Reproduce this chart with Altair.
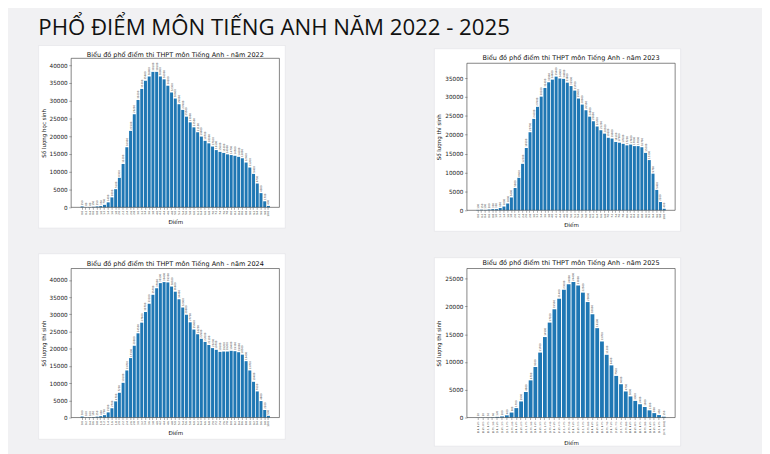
import altair as alt
import pandas as pd

# ---------------- data ----------------
labels_02 = ["0.0", "0.2", "0.4", "0.6", "0.8", "1.0", "1.2", "1.4", "1.6", "1.8",
             "2.0", "2.2", "2.4", "2.6", "2.8", "3.0", "3.2", "3.4", "3.6", "3.8",
             "4.0", "4.2", "4.4", "4.6", "4.8", "5.0", "5.2", "5.4", "5.6", "5.8",
             "6.0", "6.2", "6.4", "6.6", "6.8", "7.0", "7.2", "7.4", "7.6", "7.8",
             "8.0", "8.2", "8.4", "8.6", "8.8", "9.0", "9.2", "9.4", "9.6", "9.8", "10.0"]

labels_25 = ["[0.0, 0.25)", "[0.25, 0.5)", "[0.5, 0.75)", "[0.75, 1.0)", "[1.0, 1.25)",
             "[1.25, 1.5)", "[1.5, 1.75)", "[1.75, 2.0)", "[2.0, 2.25)", "[2.25, 2.5)",
             "[2.5, 2.75)", "[2.75, 3.0)", "[3.0, 3.25)", "[3.25, 3.5)", "[3.5, 3.75)",
             "[3.75, 4.0)", "[4.0, 4.25)", "[4.25, 4.5)", "[4.5, 4.75)", "[4.75, 5.0)",
             "[5.0, 5.25)", "[5.25, 5.5)", "[5.5, 5.75)", "[5.75, 6.0)", "[6.0, 6.25)",
             "[6.25, 6.5)", "[6.5, 6.75)", "[6.75, 7.0)", "[7.0, 7.25)", "[7.25, 7.5)",
             "[7.5, 7.75)", "[7.75, 8.0)", "[8.0, 8.25)", "[8.25, 8.5)", "[8.5, 8.75)",
             "[8.75, 9.0)", "[9.0, 9.25)", "[9.25, 9.5)", "[9.5, 9.75)", "[9.75, 10.0]"]

counts_2022 = [250, 80, 80, 150, 250, 350, 700, 1400, 2800, 5100,
               8300, 12200, 16900, 21500, 26200, 30200, 33300, 35600, 36800, 38100,
               38100, 36800, 36000, 34200, 32300, 30600, 29000, 27400, 25500, 23900,
               22500, 21100, 19900, 18700, 18000, 17100, 16100, 15600, 15300, 14900,
               14700, 14500, 14200, 13800, 12600, 11200, 9400, 6700, 4000, 1700, 400]

counts_2023 = [100, 150, 100, 200, 300, 300, 600, 1000, 1800, 3400,
               5900, 8600, 12300, 16500, 20700, 24200, 27400, 30100, 32400, 33900,
               34600, 35400, 34900, 34800, 33800, 32900, 31700, 29600, 28000, 26500,
               24800, 23600, 22200, 21200, 20300, 19200, 19000, 18100, 17900, 17600,
               17200, 17400, 17000, 17000, 16700, 15200, 13300, 9700, 5400, 2200, 400]

counts_2024 = [300, 100, 100, 150, 250, 400, 700, 1500, 2700, 4700,
               7200, 10100, 13700, 17300, 20900, 24500, 27600, 30700, 33100, 35700,
               37600, 39100, 39400, 39300, 38100, 36600, 34400, 32000, 29900, 27700,
               25600, 24200, 22900, 22000, 21100, 20200, 19700, 19100, 19200, 19200,
               19400, 19300, 19000, 18300, 16400, 13700, 10400, 7600, 4800, 2200, 500]

counts_2025 = [20, 20, 30, 60, 120, 200, 400, 900, 1700, 2900,
               4600, 6700, 9100, 11700, 14500, 17100, 19500, 21400, 23000, 24000,
               24400, 23800, 22500, 20800, 18600, 16100, 13700, 11300, 9400, 7500,
               6000, 4700, 3800, 3000, 2400, 1900, 1300, 800, 450, 150]

BAR = "#1f77b4"
BG = "#f1f1f3"
MPL_FONT = "DejaVu Sans"


def panel(labels, counts, year, ytitle, w, h, card, xlab_font=2.6,
          title_y=-3.5, xtitle_pad=4):
    df = pd.DataFrame({"Điểm": labels, "count": counts})
    ymax = max(counts) * 1.1
    ticks = list(range(0, int(ymax) + 1, 5000))

    x = alt.X("Điểm:N", sort=None, title="Điểm",
              scale=alt.Scale(paddingInner=0.2, paddingOuter=0, range=[w / 22, w * 21 / 22]),
              axis=alt.Axis(labelAngle=270, labelFontSize=xlab_font, labelFont=MPL_FONT,
                            labelColor="#222", tickSize=2, tickColor="#333", tickWidth=0.4,
                            labelPadding=1, domain=False, titleFont=MPL_FONT,
                            titleFontSize=5.6, titleFontWeight="normal", titleColor="#111",
                            titlePadding=xtitle_pad, labelOverlap=False, labelLimit=100,
                            zindex=1))
    y = alt.Y("count:Q", title=ytitle,
              scale=alt.Scale(domain=[0, ymax], nice=False, zero=True),
              axis=alt.Axis(values=ticks, format="d", labelFontSize=5.8, labelFont=MPL_FONT,
                            labelColor="#222", tickSize=2.5, tickColor="#333", tickWidth=0.4,
                            labelPadding=1.5, domain=False, grid=False, titleFont=MPL_FONT,
                            titleFontSize=5.6, titleFontWeight="normal", titleColor="#111",
                            titlePadding=3, labelOverlap=False, labelFlush=False, zindex=1))

    cx0, cx1, cy0, cy1 = card
    one = pd.DataFrame({"k": [0]})
    card_layer = alt.Chart(one).mark_rect(
        fill="white", stroke="#e2e2e6", strokeWidth=0.6).encode(
        x=alt.value(cx0), x2=alt.value(cx1), y=alt.value(cy0), y2=alt.value(cy1))

    base = alt.Chart(df)
    bars = base.mark_bar(color=BAR).encode(x=x, y=y)
    text = base.mark_text(angle=270, align="left", baseline="middle", dx=1.2,
                          fontSize=2.6, font=MPL_FONT, color="#444").encode(
        x=x, y=y, text=alt.Text("count:Q", format="d"))
    frame = alt.Chart(one).mark_rect(
        fill="transparent", stroke="#333", strokeWidth=0.6).encode(
        x=alt.value(0), x2=alt.value(w), y=alt.value(0), y2=alt.value(h))
    title = alt.Chart(one).mark_text(
        font=MPL_FONT, fontSize=6.6, color="#111", align="center", baseline="middle").encode(
        x=alt.value(w / 2), y=alt.value(title_y),
        text=alt.value(f"Biểu đồ phổ điểm thi THPT môn Tiếng Anh - năm {year}"))

    return alt.layer(card_layer, bars, text, frame, title).properties(width=w, height=h)


def spacer(hgt):
    # thin background-coloured strip used only to offset a column vertically
    return alt.Chart(pd.DataFrame({"k": [0]})).mark_rect(fill=BG).encode(
        x=alt.value(0), x2=alt.value(1), y=alt.value(0), y2=alt.value(hgt)
    ).properties(width=1, height=hgt)


p22 = panel(labels_02, counts_2022, 2022, "Số lượng học sinh", 211, 151, (-33, 217, -13, 172),
            title_y=-3.5)
p24 = panel(labels_02, counts_2024, 2024, "Số lượng thí sinh", 211, 151, (-33, 217, -15, 173),
            title_y=-4.5)
p23 = panel(labels_02, counts_2023, 2023, "Số lượng thí sinh", 211, 149, (-33, 216.5, -14.7, 170.3),
            title_y=-5)
p25 = panel(labels_25, counts_2025, 2025, "Số lượng thí sinh", 211, 151, (-33, 216.5, -11, 180),
            xlab_font=2.4, title_y=-5.5, xtitle_pad=6)

left = alt.vconcat(alt.vconcat(spacer(6), p22, spacing=0), p24, spacing=24)
right = alt.vconcat(alt.vconcat(spacer(10), p23, spacing=0), p25, spacing=25)

chart = alt.hconcat(left, right, spacing=149).properties(
    title=alt.TitleParams("PHỔ ĐIỂM MÔN TIẾNG ANH NĂM 2022 - 2025", font="Open Sans",
                          fontSize=22.5, fontWeight="normal", color="#111", anchor="start",
                          offset=-0.5),
    background=BG,
    padding={"left": 30, "top": 6, "right": 82, "bottom": 8},
).configure_view(stroke=None)

chart.save("out.html", embed_options={"renderer": "svg", "actions": False})
